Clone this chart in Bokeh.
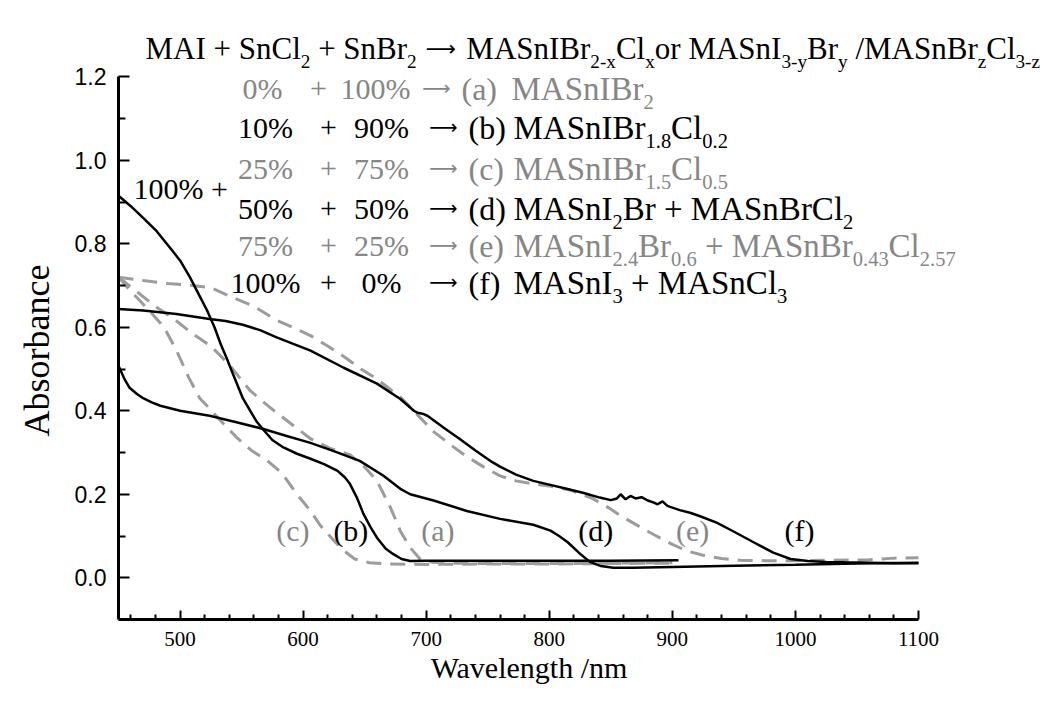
from bokeh.plotting import figure
from bokeh.models import FixedTicker, Range1d, ColumnDataSource, PrintfTickFormatter
from bokeh.core.properties import value
from bokeh.embed import file_html
from bokeh.resources import INLINE

# ---------------- data ----------------
wl_a = [450, 465, 480, 495, 510, 525, 540, 557, 573, 587, 606, 622, 638, 650, 660, 671, 679, 687, 695, 705, 720, 750, 800, 850, 900]
abs_a = [0.72, 0.685, 0.65, 0.62, 0.585, 0.555, 0.51, 0.448, 0.408, 0.376, 0.333, 0.31, 0.295, 0.265, 0.232, 0.168, 0.112, 0.072, 0.045, 0.037, 0.035, 0.034, 0.034, 0.035, 0.036]

wl_b = [450, 460, 470, 481, 492, 500, 508, 515, 522, 528, 533, 538, 543, 551, 557, 562, 567, 575, 584, 595, 606, 617, 628, 634, 638, 644, 649, 655, 660, 667, 673, 680, 687, 700, 750, 800, 850, 905]
abs_b = [0.915, 0.89, 0.862, 0.83, 0.79, 0.76, 0.72, 0.68, 0.64, 0.6, 0.56, 0.525, 0.488, 0.43, 0.40, 0.375, 0.357, 0.33, 0.312, 0.297, 0.285, 0.272, 0.256, 0.24, 0.225, 0.19, 0.153, 0.12, 0.096, 0.07, 0.057, 0.045, 0.04, 0.041, 0.041, 0.041, 0.041, 0.042]

wl_c = [450, 462, 475, 487, 497, 507, 516, 524, 535, 546, 558, 571, 583, 595, 606, 614, 625, 633, 642, 654, 670, 700, 750, 800, 850, 900]
abs_c = [0.72, 0.68, 0.64, 0.6, 0.545, 0.48, 0.43, 0.405, 0.37, 0.336, 0.305, 0.28, 0.25, 0.2, 0.16, 0.125, 0.089, 0.065, 0.045, 0.036, 0.033, 0.032, 0.033, 0.033, 0.034, 0.035]

wl_d = [450, 455, 459, 465, 470, 477, 484, 500, 524, 545, 567, 586, 606, 626, 646, 665, 679, 687, 706, 733, 760, 787, 801, 808, 815, 824, 833, 842, 852, 868, 900, 950, 1000, 1050, 1100]
abs_d = [0.508, 0.475, 0.455, 0.44, 0.43, 0.42, 0.412, 0.4, 0.388, 0.373, 0.357, 0.34, 0.323, 0.302, 0.28, 0.245, 0.213, 0.2, 0.185, 0.16, 0.141, 0.127, 0.113, 0.1, 0.085, 0.06, 0.038, 0.028, 0.024, 0.024, 0.026, 0.029, 0.031, 0.034, 0.036]

wl_e = [450, 470, 490, 510, 525, 540, 560, 579, 595, 606, 620, 633, 647, 660, 680, 693, 706, 720, 733, 747, 760, 773, 787, 800, 817, 835, 848, 860, 873, 887, 900, 912, 925, 940, 955, 975, 1000, 1030, 1060, 1080, 1100]
abs_e = [0.72, 0.712, 0.705, 0.70, 0.695, 0.675, 0.65, 0.616, 0.595, 0.58, 0.555, 0.53, 0.5, 0.476, 0.43, 0.39, 0.35, 0.318, 0.29, 0.265, 0.244, 0.232, 0.225, 0.22, 0.21, 0.19, 0.168, 0.145, 0.123, 0.1, 0.08, 0.064, 0.054, 0.046, 0.042, 0.041, 0.041, 0.042, 0.043, 0.047, 0.048]

wl_f = [450, 470, 497, 524, 537, 551, 565, 579, 592, 606, 633, 660, 679, 690, 693, 697, 701, 714, 727, 740, 752, 760, 773, 787, 800, 814, 828, 841, 850, 855, 858, 862, 866, 870, 875, 880, 885, 888, 892, 896, 900, 906, 915, 922, 936, 949, 966, 982, 996, 1010, 1025, 1040, 1060, 1080, 1100]
abs_f = [0.644, 0.64, 0.632, 0.62, 0.615, 0.606, 0.593, 0.575, 0.56, 0.544, 0.503, 0.465, 0.428, 0.4, 0.395, 0.393, 0.388, 0.36, 0.333, 0.305, 0.28, 0.266, 0.247, 0.232, 0.223, 0.213, 0.203, 0.192, 0.186, 0.19, 0.2, 0.188, 0.196, 0.19, 0.193, 0.185, 0.18, 0.176, 0.183, 0.172, 0.168, 0.162, 0.155, 0.148, 0.132, 0.112, 0.085, 0.06, 0.045, 0.04, 0.038, 0.037, 0.036, 0.035, 0.035]

x_ticks = [500, 600, 700, 800, 900, 1000, 1100]
y_ticks = [0.0, 0.2, 0.4, 0.6, 0.8, 1.0, 1.2]
x_minor = [v for v in range(460, 1100, 20) if v % 100 != 0]
y_minor = [0.1, 0.3, 0.5, 0.7, 0.9, 1.1]

curve_tags = ["(a)", "(b)", "(c)", "(d)", "(e)", "(f)"]
pct_first = ["0%", "10%", "25%", "50%", "75%", "100%"]
pct_second = ["100%", "90%", "75%", "50%", "25%", "0%"]
formulas = [
    [("MASnIBr", 0), ("2", 1)],
    [("MASnIBr", 0), ("1.8", 1), ("Cl", 0), ("0.2", 1)],
    [("MASnIBr", 0), ("1.5", 1), ("Cl", 0), ("0.5", 1)],
    [("MASnI", 0), ("2", 1), ("Br + MASnBrCl", 0), ("2", 1)],
    [("MASnI", 0), ("2.4", 1), ("Br", 0), ("0.6", 1), (" + MASnBr", 0), ("0.43", 1), ("Cl", 0), ("2.57", 1)],
    [("MASnI", 0), ("3", 1), (" + MASnCl", 0), ("3", 1)],
]
title_left = [("MAI + SnCl", 0), ("2", 1), (" + SnBr", 0), ("2", 1)]
title_right = [("MASnIBr", 0), ("2-x", 1), ("Cl", 0), ("x", 1), ("or MASnI", 0), ("3-y", 1),
               ("Br", 0), ("y", 1), (" /MASnBr", 0), ("z", 1), ("Cl", 0), ("3-z", 1)]

# ---------------- styling / layout ----------------
BLACK = "#000000"
GRAY_T = "#868686"
GRAY_L = "#9c9c9c"
SERIF = "Liberation Serif"
ARROW = "\u27f6"
NBSP = "\u00a0"

BL = 118                 # left border (px) -> position of the y axis
FW = 926                 # frame reaches the right edge (text lives there)
FH = 619                 # frame reaches the top edge (title lives there)
PX_PER_NM = 800 / 650.0
X0 = 450
X1 = X0 + FW / PX_PER_NM
PX_PER_UNIT = 417.5
Y0 = -0.1
Y1 = Y0 + FH / PX_PER_UNIT

p = figure(frame_width=FW, frame_height=FH,
           x_range=Range1d(X0, X1), y_range=Range1d(Y0, Y1),
           output_backend="svg", toolbar_location=None,
           min_border_left=BL, min_border_right=0, min_border_top=0, min_border_bottom=71)
p.outline_line_color = None
p.xgrid.visible = False
p.ygrid.visible = False
p.background_fill_color = "white"
p.border_fill_color = "white"

for ax in (p.xaxis[0], p.yaxis[0]):
    ax.axis_line_width = 3
    ax.axis_line_color = BLACK
    ax.major_tick_out = 0
    ax.minor_tick_out = 0
    ax.major_tick_line_width = 2
    ax.minor_tick_line_width = 2
    ax.major_label_text_color = BLACK
    ax.axis_label_text_font = SERIF
    ax.axis_label_text_font_style = "normal"
    ax.axis_label_text_color = BLACK

p.xaxis.bounds = (450, 1100)
p.xaxis.ticker = FixedTicker(ticks=x_ticks, minor_ticks=x_minor)
p.xaxis.major_tick_in = 9
p.xaxis.minor_tick_in = 5
p.xaxis.major_label_text_font = SERIF
p.xaxis.major_label_text_font_size = "21px"
p.xaxis.major_label_standoff = 12
# trailing no-break spaces shift the visible title to the left, as in the reference
p.xaxis.axis_label = "Wavelength /nm" + NBSP * 14
p.xaxis.axis_label_text_font_size = "30px"
p.xaxis.axis_label_standoff = 2

p.yaxis.bounds = (-0.1, 1.2)
p.yaxis.ticker = FixedTicker(ticks=y_ticks, minor_ticks=y_minor)
p.yaxis.formatter = PrintfTickFormatter(format="%.1f")
p.yaxis.major_tick_in = 11
p.yaxis.minor_tick_in = 7
p.yaxis.major_label_text_font = "Liberation Sans"
p.yaxis.major_label_text_font_size = "23px"
p.yaxis.major_label_standoff = 12
# trailing no-break spaces shift the vertical title downwards, as in the reference
p.yaxis.axis_label = "Absorbance" + NBSP * 9
p.yaxis.axis_label_text_font_size = "36px"
p.yaxis.axis_label_standoff = 15

# curves
dash_style = dict(line_color=GRAY_L, line_width=3, line_dash="15 9")
solid_style = dict(line_color=BLACK, line_width=2.5)
p.line(wl_a, abs_a, **dash_style)
p.line(wl_c, abs_c, **dash_style)
p.line(wl_e, abs_e, **dash_style)
p.line(wl_b, abs_b, **solid_style)
p.line(wl_d, abs_d, **solid_style)
p.line(wl_f, abs_f, **solid_style)

# ---------------- text helpers ----------------
WID = {' ': 250, '%': 833, '+': 564, '-': 333, '.': 250, '/': 278, '(': 333, ')': 333,
       'A': 722, 'B': 667, 'C': 667, 'I': 333, 'M': 889, 'S': 556,
       'a': 444, 'b': 500, 'c': 444, 'd': 500, 'e': 444, 'f': 333, 'l': 278, 'n': 500,
       'o': 500, 'r': 333, 'x': 500, 'y': 500, 'z': 444}
for dch in "0123456789":
    WID[dch] = 500


def tw(s, size):
    return sum(WID.get(ch, 500) for ch in s) / 1000.0 * size


def dx(px):  # picture pixel -> data x
    return X0 + (px - BL) / PX_PER_NM


def dy(py):  # picture pixel -> data y
    return Y1 - py / PX_PER_UNIT


def new_store():
    return dict(x=[], y=[], text=[], size=[], color=[])


left_txt = new_store()
center_txt = new_store()
arrow_txt = new_store()


def put(store, px, py, txt, size, color):
    store["x"].append(dx(px))
    store["y"].append(dy(py))
    store["text"].append(txt)
    store["size"].append("%.1fpx" % size)
    store["color"].append(color)


def run(px, base, parts, F, color):
    x = px
    for txt, sub in parts:
        size = F * 0.62 if sub else F
        yy = base + (0.42 * F if sub else 0)
        core = txt.strip(" ")
        lead = len(txt) - len(txt.lstrip(" "))
        trail = len(txt) - len(txt.rstrip(" "))
        x += tw(" " * lead, size)
        put(left_txt, x, yy, core, size, color)
        x += tw(core, size) + tw(" " * trail, size)
    return x

# title line
TF = 31
xe = run(145, 48, title_left, TF, BLACK)
put(arrow_txt, xe + 0.78 * TF, 48, ARROW, 0.68 * TF, BLACK)
run(xe + 1.6 * TF, 48, title_right, TF, BLACK)

# legend rows
PF = 30     # percentages
GF = 32     # (a)...(f)
MF = 33     # formulas
row_base = [88, 127, 168, 208, 245, 282]
row_color = [GRAY_T, BLACK, GRAY_T, BLACK, GRAY_T, BLACK]
for i in range(6):
    b = row_base[i]
    col = row_color[i]
    if i == 0:
        c1, cp, c2, ca, lt, lf = 262, 318, 375, 436, 461, 511
    else:
        c1, cp, c2, ca, lt, lf = 265, 328, 381, 443, 468, 513
    put(center_txt, c1, b, pct_first[i], PF, col)
    put(center_txt, cp, b, "+", PF, col)
    put(center_txt, c2, b, pct_second[i], PF, col)
    put(arrow_txt, ca, b, ARROW, 0.66 * PF, col)
    put(left_txt, lt, b, curve_tags[i], GF, col)
    run(lf, b, formulas[i], MF, col)

put(left_txt, 133, 188, "100% +", PF, BLACK)

for store, align, font in ((left_txt, "left", SERIF), (center_txt, "center", SERIF),
                           (arrow_txt, "center", "DejaVu Sans")):
    p.text(x="x", y="y", text="text", source=ColumnDataSource(store),
           text_font=value(font), text_font_size="size", text_color="color",
           text_align=align, text_baseline="alphabetic")

# curve labels near the absorption edges
tag_x = [709.5, 638.8, 591.7, 837.8, 916.5, 1003.4]
tag_src = ColumnDataSource(dict(x=tag_x, y=[0.113] * 6, text=curve_tags, color=row_color))
p.text(x="x", y="y", text="text", source=tag_src, text_font=value(SERIF),
       text_font_size="30px", text_color="color", text_align="center", text_baseline="middle")

open("out.html", "w").write(file_html(p, INLINE))
